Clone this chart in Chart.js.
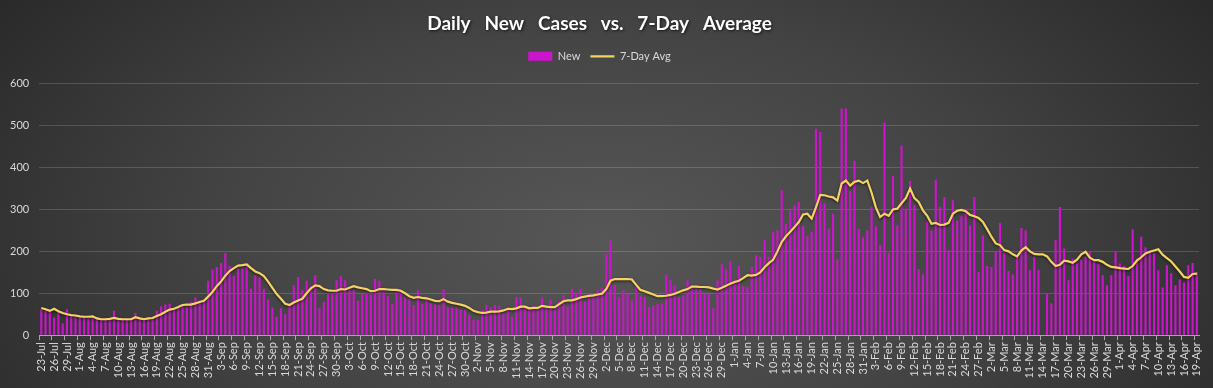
<!DOCTYPE html>
<html>
<head>
<meta charset="utf-8">
<script src="https://cdn.jsdelivr.net/npm/chart.js@4"></script>
<style>
  html, body { margin: 0; padding: 0; background: #2a2a2a; }
  #wrap {
    width: 1213px; height: 388px; position: relative;
    background: radial-gradient(ellipse 65% 115% at 50% 62%, #575757 0%, #434343 50%, #262626 100%);
  }
</style>
</head>
<body>
<div id="wrap"><canvas id="casechart"></canvas></div>
<script>
// day labels, 23-Jul .. 19-Apr
const monthSpans = [['Jul', 23, 31], ['Aug', 1, 31], ['Sep', 1, 30], ['Oct', 1, 31], ['Nov', 1, 30],
                    ['Dec', 1, 31], ['Jan', 1, 31], ['Feb', 1, 28], ['Mar', 1, 31], ['Apr', 1, 19]];
const dayLabels = [];
monthSpans.forEach(([m, from, to]) => { for (let d = from; d <= to; d++) dayLabels.push(d + '-' + m); });

const newCases = [
  61, 58, 56, 42, 58, 28, 61, 45, 44, 42,
  46, 40, 48, 42, 36, 38, 40, 58, 40, 38,
  40, 38, 53, 40, 38, 42, 40, 58, 69, 73,
  75, 62, 66, 70, 68, 80, 90, 83, 85, 130,
  157, 163, 172, 196, 165, 141, 159, 159, 165, 111,
  143, 138, 111, 85, 66, 44, 64, 50, 75, 119,
  139, 107, 130, 117, 143, 64, 80, 99, 99, 131,
  141, 131, 107, 107, 82, 99, 101, 99, 134, 130,
  103, 93, 74, 107, 103, 90, 87, 72, 107, 74,
  87, 76, 74, 72, 109, 66, 65, 65, 60, 60,
  48, 37, 36, 60, 72, 66, 72, 69, 52, 65,
  44, 91, 90, 68, 68, 69, 68, 90, 64, 85,
  60, 80, 95, 68, 111, 101, 111, 80, 99, 95,
  107, 113, 194, 226, 119, 91, 107, 99, 83, 120,
  95, 91, 67, 71, 75, 75, 145, 131, 119, 91,
  95, 131, 119, 111, 109, 99, 99, 64, 131, 169,
  157, 176, 131, 165, 117, 115, 163, 191, 187, 227,
  187, 246, 250, 346, 266, 298, 310, 318, 262, 236,
  246, 493, 485, 314, 254, 290, 181, 541, 541, 344,
  416, 254, 234, 250, 306, 260, 215, 508, 196, 380,
  262, 453, 302, 368, 310, 158, 145, 270, 250, 371,
  306, 330, 203, 322, 274, 284, 302, 262, 330, 151,
  238, 165, 163, 199, 268, 195, 153, 145, 187, 256,
  250, 155, 187, 156, 0, 99, 76, 227, 306, 207,
  131, 183, 171, 180, 187, 199, 175, 169, 143, 119,
  143, 199, 171, 165, 141, 253, 183, 235, 210, 199,
  196, 155, 114, 167, 148, 119, 133, 126, 167, 172,
  150
];

const sevenDayAvg = [
  65, 62, 58, 63, 57, 53, 50, 48, 47, 45,
  44, 44, 45, 40, 38, 38, 39, 41, 39, 38,
  38, 38, 43, 40, 38, 40, 41, 46, 50, 56,
  61, 63, 67, 72, 73, 73, 76, 79, 82, 92,
  103, 117, 128, 142, 153, 160, 166, 167, 169, 160,
  152, 148, 141, 128, 113, 98, 87, 75, 72, 78,
  83, 87, 100, 112, 119, 117, 110, 107, 106, 106,
  110, 109, 113, 117, 114, 112, 110, 105, 106, 110,
  110, 109, 108, 108, 106, 100, 93, 89, 91, 89,
  88, 85, 82, 81, 86, 80, 77, 75, 73, 70,
  65, 58, 55, 53, 54, 56, 56, 57, 59, 63,
  62, 64, 68, 68, 64, 65, 65, 70, 68, 67,
  67, 74, 81, 83, 83, 86, 90, 92, 94, 95,
  97, 99, 110, 130, 134, 134, 134, 134, 133, 120,
  108, 105, 101, 97, 93, 93, 94, 96, 99, 103,
  107, 110, 116, 116, 115, 115, 114, 111, 109, 113,
  118, 123, 127, 130, 136, 143, 142, 144, 150, 162,
  172, 180, 200, 222, 236, 247, 258, 270, 288, 290,
  278, 305, 335, 334, 331, 329, 321, 362, 369, 357,
  366, 369, 363, 369, 340, 305, 282, 290, 285, 300,
  302, 315, 327, 350, 327, 318, 298, 285, 266, 268,
  263, 264, 268, 290, 297, 299, 296, 287, 284, 280,
  270, 253, 235, 219, 215, 203, 200, 193, 188, 202,
  210, 200, 194, 193, 193, 188, 175, 165, 168, 178,
  176, 173, 180, 193, 199, 185, 179, 179, 175, 168,
  163, 162, 160, 159, 158, 165, 178, 186, 195, 199,
  202, 205, 192, 184, 176, 164, 152, 139, 137, 146,
  147
];

const yTicks = [0, 100, 200, 300, 400, 500, 600];

const TEXT = '#d9d9d9';
const FONT = 'Lato, "Open Sans", sans-serif';

// soft dark shadow under the average line
const lineShadow = {
  id: 'lineShadow',
  beforeDatasetDraw(chart, args) {
    if (args.index !== 1) return;
    const c = chart.ctx;
    c.save();
    c.shadowColor = 'rgba(0,0,0,0.65)';
    c.shadowBlur = 3;
    c.shadowOffsetY = 1;
  },
  afterDatasetDraw(chart, args) {
    if (args.index === 1) chart.ctx.restore();
  }
};

// extra room between legend and plot, shadow behind the title
const headerTweaks = {
  id: 'headerTweaks',
  beforeInit(chart) {
    const fit = chart.legend.fit;
    chart.legend.fit = function () {
      fit.call(this);
      this.height += 12;
    };
    const drawTitle = chart.titleBlock.draw;
    chart.titleBlock.draw = function () {
      const c = this.ctx;
      c.save();
      c.shadowColor = 'rgba(0,0,0,0.7)';
      c.shadowBlur = 3;
      c.shadowOffsetX = 1;
      c.shadowOffsetY = 1;
      drawTitle.call(this);
      c.restore();
    };
  }
};

const config = {
  data: {
    labels: dayLabels,
    datasets: [
      {
        type: 'bar',
        label: 'New',
        data: newCases,
        backgroundColor: '#cc14cc',
        borderWidth: 0,
        barPercentage: 0.5,
        categoryPercentage: 1,
        pointStyle: 'rect',
        order: 1
      },
      {
        type: 'line',
        label: '7-Day Avg',
        data: sevenDayAvg,
        borderColor: '#f6d264',
        backgroundColor: '#f6d264',
        borderWidth: 2.2,
        pointRadius: 0,
        tension: 0,
        pointStyle: 'line',
        order: 0
      }
    ]
  },
  plugins: [lineShadow, headerTweaks],
  options: {
    responsive: true,
    maintainAspectRatio: false,
    animation: false,
    layout: { padding: { left: 0, right: 14, top: 0, bottom: 7 } },
    plugins: {
      title: {
        display: true,
        text: 'Daily   New   Cases   vs.   7-Day   Average',
        color: '#ffffff',
        font: { family: FONT, size: 19, weight: 'bold' },
        padding: { top: 12, bottom: 6 }
      },
      legend: {
        position: 'top',
        labels: {
          color: TEXT,
          font: { family: FONT, size: 11 },
          usePointStyle: true,
          pointStyleWidth: 24,
          boxHeight: 9,
          padding: 10,
          sort: (a, b) => a.datasetIndex - b.datasetIndex
        }
      },
      tooltip: { enabled: false }
    },
    scales: {
      x: {
        grid: {
          display: true,
          drawOnChartArea: false,
          drawTicks: true,
          tickLength: 5,
          color: (ctx) => (ctx.index % 3 === 0 ? '#a6a6a6' : 'rgba(0,0,0,0)')
        },
        border: { color: '#a6a6a6' },
        ticks: {
          autoSkip: false,
          minRotation: 90,
          maxRotation: 90,
          color: TEXT,
          padding: 2,
          font: { family: FONT, size: 11 },
          callback: function (val, idx) {
            return idx % 3 === 0 ? this.getLabelForValue(val) : '';
          }
        }
      },
      y: {
        min: yTicks[0],
        max: yTicks[yTicks.length - 1],
        ticks: {
          stepSize: 100,
          color: TEXT,
          padding: 10,
          font: { family: FONT, size: 11 }
        },
        grid: { color: 'rgba(255,255,255,0.16)', drawTicks: false },
        border: { display: false }
      }
    }
  }
};

const ctx = document.getElementById('casechart').getContext('2d');
new Chart(ctx, config);
</script>
</body>
</html>
